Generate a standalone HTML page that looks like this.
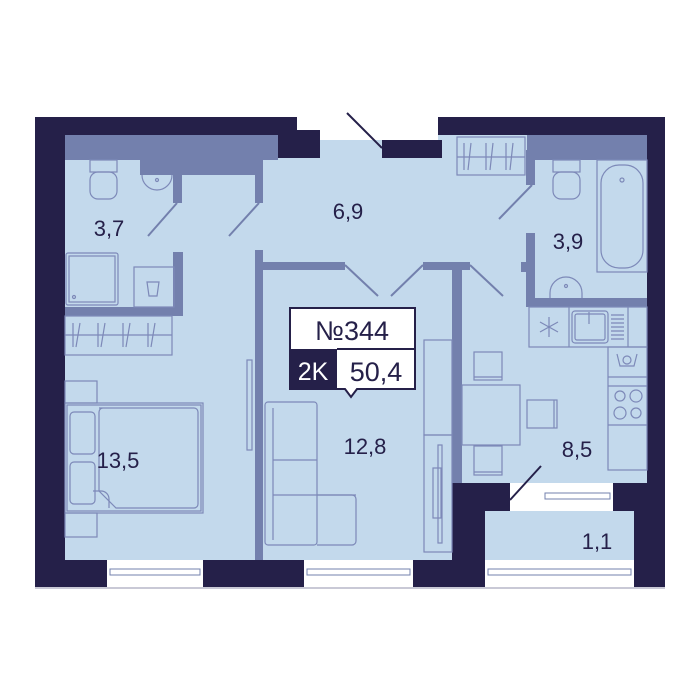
<!DOCTYPE html>
<html><head><meta charset="utf-8"><style>
html,body{margin:0;padding:0;background:#fff;}
svg{display:block}
text{font-family:"Liberation Sans",sans-serif;fill:#252049}
</style></head><body>
<svg width="700" height="700" viewBox="0 0 700 700" xmlns="http://www.w3.org/2000/svg">
<!-- floor -->
<rect x="65" y="135" width="582" height="425" fill="#c3d9ec"/>
<rect x="297" y="117" width="141" height="23" fill="#fff"/>
<!-- dark walls -->
<g fill="#252049">
<rect x="35" y="117" width="262" height="18"/>
<rect x="278" y="130" width="42" height="28"/>
<rect x="382" y="140" width="60" height="18"/>
<rect x="438" y="117" width="227" height="18"/>
<rect x="35" y="117" width="30" height="470"/>
<rect x="647" y="117" width="18" height="470"/>
<rect x="35" y="560" width="630" height="27"/>
<rect x="452" y="483" width="58" height="77"/>
<rect x="613" y="483" width="52" height="28"/>
<rect x="634" y="483" width="31" height="104"/>
</g>
<rect x="35" y="587" width="630" height="2" fill="#c9c9d6"/>
<!-- balcony -->
<rect x="485" y="511" width="149" height="49" fill="#c3d9ec"/>
<rect x="510" y="483" width="103" height="28" fill="#fff"/>
<rect x="485" y="483" width="25" height="28" fill="#252049"/>
<!-- windows -->
<g fill="#fff" stroke="#7380ad" stroke-width="1">
<rect x="107" y="560" width="96" height="27" stroke="none"/>
<rect x="304" y="560" width="109" height="27" stroke="none"/>
<rect x="485" y="560" width="149" height="27" stroke="none"/>
<rect x="110" y="569" width="90" height="6"/>
<rect x="307" y="569" width="103" height="6"/>
<rect x="488" y="569" width="143" height="6"/>
<rect x="545" y="493" width="65" height="6"/>
</g>
<line x1="510" y1="500" x2="541" y2="466" stroke="#252049" stroke-width="2"/>
<line x1="347" y1="113" x2="382" y2="148" stroke="#252049" stroke-width="2"/>
<!-- purple inner walls -->
<g fill="#7380ad">
<rect x="65" y="135" width="213" height="25"/>
<rect x="140" y="160" width="115" height="15"/>
<rect x="263" y="135" width="15" height="23"/>
<rect x="173" y="160" width="9" height="43"/>
<rect x="255" y="160" width="8" height="43"/>
<rect x="173" y="252" width="10" height="64"/>
<rect x="65" y="307" width="118" height="9"/>
<rect x="255" y="250" width="8" height="310"/>
<rect x="263" y="262" width="82" height="8"/>
<rect x="423" y="262" width="47" height="8"/>
<rect x="452" y="270" width="10" height="213"/>
<rect x="527" y="135" width="120" height="25"/>
<rect x="526" y="150" width="9" height="35"/>
<rect x="526" y="233" width="9" height="74"/>
<rect x="521" y="262" width="6" height="10"/>
<rect x="526" y="298" width="121" height="9"/>
</g>
<!-- door swings -->
<g stroke="#7380ad" stroke-width="2">
<line x1="148" y1="236" x2="177" y2="203"/>
<line x1="229" y1="236" x2="259" y2="203"/>
<line x1="345" y1="265" x2="378" y2="296"/>
<line x1="391" y1="296" x2="423" y2="265"/>
<line x1="470" y1="265" x2="503" y2="296"/>
<line x1="499" y1="219" x2="532" y2="185"/>
</g>
<!-- furniture outlines -->
<g fill="none" stroke="#7d89b8" stroke-width="1.2">
<rect x="90" y="160" width="27" height="12"/><rect x="90" y="172" width="27" height="27" rx="8"/>
<path d="M142 175 a15 15 0 0 0 30 0"/><circle cx="157" cy="180" r="1.5"/>
<rect x="66" y="253" width="52" height="52" rx="2"/><rect x="69" y="256" width="46" height="46"/><circle cx="74" cy="297" r="1.5"/>
<rect x="134" y="267" width="40" height="40"/>
<path d="M147 282 h12 l-2 14 h-8 z"/>
<rect x="65" y="316" width="107" height="39"/><line x1="65" y1="335" x2="172" y2="335"/>
<path d="M73 323v24M80 323l-4 24M98 323v24M105 323l-4 24M123 323v24M130 323l-4 24M148 323v24M155 323l-4 24"/>
<rect x="65" y="381" width="32" height="22"/>
<rect x="65" y="403" width="138" height="110"/><rect x="67" y="405" width="134" height="106"/>
<rect x="70" y="412" width="25" height="42" rx="4"/><rect x="70" y="462" width="25" height="42" rx="4"/>
<path d="M99 408 h95 a4 4 0 0 1 4 4 v92 a4 4 0 0 1 -4 4 h-78 l-17 -17 v-79 a4 4 0 0 1 4 -4z"/>
<path d="M93 491 h8 a8 8 0 0 1 8 8 v9"/>
<rect x="65" y="513" width="32" height="24"/>
<rect x="247" y="360" width="5" height="90"/>
<rect x="265" y="402" width="52" height="143" rx="3"/><line x1="273" y1="408" x2="273" y2="540"/>
<line x1="273" y1="460" x2="317" y2="460"/><line x1="273" y1="495" x2="356" y2="495"/>
<path d="M317 495 h35 a4 4 0 0 1 4 4 v42 a4 4 0 0 1 -4 4 h-35"/>
<rect x="424" y="340" width="28" height="95"/><rect x="424" y="435" width="28" height="117"/>
<rect x="438" y="445" width="4" height="98"/><rect x="433" y="468" width="8" height="50"/>
<rect x="462" y="385" width="58" height="60"/>
<rect x="474" y="352" width="28" height="28"/><line x1="474" y1="377" x2="502" y2="377"/>
<rect x="527" y="400" width="30" height="28"/><line x1="554" y1="400" x2="554" y2="428"/>
<rect x="474" y="446" width="28" height="29"/><line x1="474" y1="472" x2="502" y2="472"/>
<rect x="529" y="307" width="118" height="40"/><line x1="569" y1="307" x2="569" y2="347"/><line x1="628" y1="307" x2="628" y2="347"/>
<rect x="572" y="311" width="36" height="32" rx="3"/><rect x="575" y="314" width="30" height="26" rx="2"/><line x1="589" y1="312" x2="589" y2="324"/>
<path d="M611 315h13M611 319h13M611 323h13M611 327h13M611 331h13M611 335h13M611 339h13"/>
<path d="M549 317v20M540 322l18 10M540 332l18 -10"/>
<rect x="608" y="347" width="39" height="123"/>
<line x1="608" y1="377" x2="647" y2="377"/><line x1="608" y1="386" x2="647" y2="386"/><line x1="608" y1="425" x2="647" y2="425"/>
<path d="M617 354 l3 12 h14 l3 -12"/><circle cx="627" cy="360" r="4"/>
<circle cx="620" cy="396" r="5"/><circle cx="636" cy="396" r="6"/><circle cx="620" cy="413" r="6"/><circle cx="636" cy="413" r="5"/>
<rect x="457" y="137" width="68" height="38"/><line x1="457" y1="157" x2="525" y2="157"/>
<path d="M464 143v27M471 143l-3 27M486 143v27M493 143l-3 27M506 143v27M513 143l-3 27"/>
<rect x="553" y="160" width="27" height="12"/><rect x="553" y="172" width="27" height="27" rx="8"/>
<rect x="597" y="160" width="50" height="112"/><rect x="601" y="165" width="42" height="103" rx="18"/><circle cx="622" cy="180" r="2"/>
<path d="M550 298 v-5 a16 16 0 0 1 32 0 v5"/><circle cx="566" cy="286" r="1.5"/>
</g>
<!-- label box -->
<path d="M290 308 H415 V389 H357 L351 397 L345 389 H290 Z" fill="#fff" stroke="#252049" stroke-width="2"/>
<rect x="290" y="349" width="47" height="40" fill="#252049"/>
<line x1="337" y1="349" x2="415" y2="349" stroke="#252049" stroke-width="2"/>
<text x="352" y="340" font-size="27" text-anchor="middle">№344</text>
<text x="313" y="380" font-size="25" text-anchor="middle" style="fill:#fff">2K</text>
<text x="376" y="381" font-size="27" text-anchor="middle">50,4</text>
<g font-size="22" text-anchor="middle">
<text x="109" y="236">3,7</text>
<text x="348" y="219">6,9</text>
<text x="568" y="249">3,9</text>
<text x="118" y="468">13,5</text>
<text x="365" y="454">12,8</text>
<text x="577" y="457">8,5</text>
<text x="597" y="549">1,1</text>
</g>
</svg>
</body></html>
